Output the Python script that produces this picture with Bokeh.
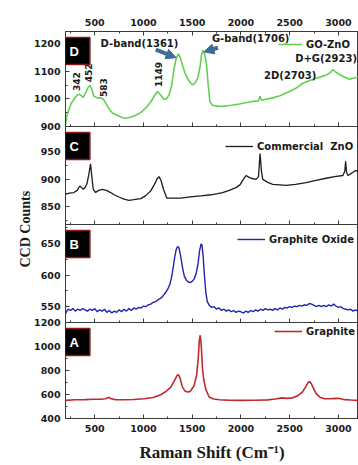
import math
from bokeh.plotting import figure
from bokeh.layouts import column
from bokeh.models import (Range1d, LinearAxis, SingleIntervalTicker, CustomJSTickFormatter,
                          Label, Arrow, NormalHead, Legend, LegendItem, ColumnDataSource, Title)
from bokeh.embed import file_html
from bokeh.resources import INLINE
from bokeh.core.properties import value

# ---------------- data ----------------
# Panel D : GO-ZnO
gz_x = [200, 215, 234, 260, 285, 310, 337, 360, 382, 410,
        430, 450, 470, 491, 520, 545, 567, 590, 611, 640,
        663, 700, 748, 780, 817, 860, 903, 950, 989, 1030,
        1074, 1110, 1143, 1175, 1211, 1240, 1263, 1290, 1314, 1335,
        1358, 1378, 1400, 1425, 1452, 1480, 1503, 1530, 1555, 1580,
        1596, 1610, 1625, 1645, 1662, 1681, 1709, 1760, 1812, 1900,
        1983, 2086, 2150, 2180, 2196, 2212, 2270, 2326, 2400, 2497,
        2570, 2635, 2700, 2772, 2830, 2875, 2915, 2944, 2975, 3012,
        3060, 3115, 3160, 3206]
gz_y = [905, 940, 962, 985, 998, 1010, 1018, 1012, 1006, 1025,
        1040, 1049, 1035, 1010, 1005, 1004, 1004, 998, 986, 968,
        956, 945, 938, 933, 930, 933, 938, 946, 956, 970,
        989, 1010, 1027, 1015, 998, 1002, 1016, 1050, 1111, 1145,
        1164, 1150, 1123, 1095, 1075, 1060, 1051, 1058, 1075, 1115,
        1160, 1177, 1165, 1130, 1060, 990, 977, 974, 973, 977,
        982, 989, 992, 993, 1010, 995, 1000, 1004, 1012, 1027,
        1040, 1057, 1066, 1075, 1082, 1087, 1095, 1107, 1097, 1089,
        1080, 1072, 1076, 1079]

# Panel C : Commercial ZnO
cz_x = [200, 240, 285, 320, 347, 365, 382, 405, 423, 440,
        457, 470, 485, 509, 540, 577, 620, 663, 700, 748,
        800, 851, 900, 972, 1020, 1074, 1110, 1140, 1160, 1180,
        1205, 1239, 1300, 1383, 1480, 1589, 1692, 1760, 1812, 1880,
        1949, 1990, 2018, 2052, 2080, 2103, 2155, 2180, 2196, 2210,
        2224, 2270, 2326, 2400, 2463, 2560, 2669, 2770, 2875, 2960,
        3046, 3066, 3074, 3084, 3098, 3125, 3149, 3175, 3206]
cz_y = [873, 875, 876, 880, 888, 885, 882, 886, 894, 910,
        928, 905, 882, 876, 880, 882, 880, 876, 872, 868,
        864, 862, 863, 865, 870, 879, 890, 901, 905, 898,
        882, 866, 866, 866, 868, 870, 872, 874, 876, 880,
        885, 890, 898, 907, 904, 902, 900, 905, 947, 915,
        900, 895, 891, 890, 889, 891, 894, 898, 902, 905,
        907, 915, 933, 912, 907, 910, 913, 916, 914]

# Panel B : Graphite Oxide
go_x = [200, 225, 250, 275, 300, 325, 350, 375, 400, 425,
        450, 475, 500, 525, 550, 575, 600, 625, 650, 675,
        700, 725, 750, 775, 800, 825, 850, 875, 900, 925,
        950, 975, 1000, 1025, 1050, 1075, 1100, 1125, 1150, 1175,
        1200, 1225, 1250, 1270, 1290, 1305, 1320, 1335, 1350, 1362,
        1375, 1390, 1405, 1420, 1440, 1460, 1480, 1500, 1520, 1540,
        1560, 1575, 1590, 1600, 1612, 1625, 1640, 1655, 1675, 1700,
        1725, 1750, 1775, 1800, 1825, 1850, 1875, 1900, 1925, 1950,
        1975, 2000, 2025, 2050, 2075, 2100, 2125, 2150, 2175, 2200,
        2225, 2250, 2275, 2300, 2325, 2350, 2375, 2400, 2425, 2450,
        2475, 2500, 2525, 2550, 2575, 2600, 2625, 2650, 2675, 2700,
        2725, 2750, 2775, 2800, 2825, 2850, 2875, 2900, 2925, 2950,
        2975, 3000, 3025, 3050, 3075, 3100, 3125, 3150, 3175, 3206]
go_y = [539, 546, 544, 547, 543, 546, 544, 547, 545, 543,
        546, 544, 547, 542, 545, 543, 546, 541, 544, 540,
        543, 541, 545, 542, 546, 543, 547, 544, 548, 546,
        549, 548, 551, 550, 553, 554, 557, 558, 561, 563,
        567, 572, 578, 585, 598, 612, 628, 640, 645, 644,
        635, 622, 608, 598, 592, 589, 588, 590, 594, 602,
        618, 638, 649, 648, 630, 600, 572, 558, 552, 549,
        550, 546, 548, 544, 546, 543, 545, 542, 544, 541,
        543, 542, 540, 543, 541, 544, 542, 545, 543, 546,
        544, 547, 545, 546, 544, 547, 545, 548, 546, 549,
        548, 550, 549, 551, 550, 552, 551, 553, 552, 555,
        554, 552, 550, 552, 550, 552, 550, 553, 551, 554,
        551, 549, 550, 547, 546, 545, 546, 543, 545, 543]

# Panel A : Graphite
gr_x = [200, 300, 400, 491, 560, 610, 630, 648, 668, 714,
        800, 900, 1006, 1100, 1177, 1230, 1280, 1320, 1345, 1358,
        1372, 1400, 1425, 1452, 1480, 1520, 1545, 1562, 1572, 1582,
        1592, 1605, 1617, 1640, 1674, 1720, 1780, 1863, 2000, 2150,
        2275, 2350, 2420, 2470, 2530, 2584, 2630, 2665, 2690, 2705,
        2722, 2750, 2772, 2810, 2857, 2930, 3000, 3064, 3130, 3206]
gr_y = [551, 556, 557, 560, 560, 565, 572, 575, 564, 557,
        556, 558, 565, 575, 598, 625, 662, 720, 760, 766,
        745, 662, 630, 620, 626, 675, 760, 900, 1040, 1094,
        1020, 820, 731, 640, 579, 563, 556, 553, 551, 552,
        555, 563, 572, 568, 572, 590, 620, 665, 700, 708,
        690, 640, 607, 578, 565, 566, 568, 557, 554, 551]

series_names = ["GO-ZnO", "Commercial  ZnO", "Graphite Oxide", "Graphite"]
panel_letters = ["D", "C", "B", "A"]
peak_labels = ["342", "452", "583", "1149"]
band_labels = ["D-band(1361)", "G-band(1706)", "2D(2703)", "D+G(2923)"]
y_title = "CCD Counts"
x_title = "Raman Shift (Cm\u207b\u00b9)"

# ---------------- styling ----------------
AX = "#3a3a3a"
TXT = "#1a1a1a"
TICK_FONT = "DejaVu Sans"
x_range = Range1d(200, 3206)


def blank_formatter():
    return CustomJSTickFormatter(code="return ''")


def panel(height, top, bottom, yr, yint, mtop):
    p = figure(width=358, height=height, x_range=x_range, y_range=Range1d(*yr),
               x_axis_location=None, toolbar_location=None, tools="",
               output_backend="svg", min_border_left=65, min_border_right=0,
               min_border_top=top, min_border_bottom=bottom,
               border_fill_color=None, background_fill_color="white",
               outline_line_color=AX, outline_line_width=1)
    p.margin = (mtop, 0, 0, 0)
    p.xgrid.visible = False
    p.ygrid.visible = False
    ya = p.yaxis[0]
    ya.ticker = SingleIntervalTicker(interval=yint, num_minor_ticks=2)
    ya.major_tick_in = 4
    ya.major_tick_out = 0
    ya.minor_tick_in = 2
    ya.minor_tick_out = 0
    ya.axis_line_color = AX
    ya.major_tick_line_color = AX
    ya.minor_tick_line_color = AX
    ya.major_label_standoff = 5
    ya.major_label_text_font = TICK_FONT
    ya.major_label_text_font_style = "bold"
    ya.major_label_text_font_size = "9.5px"
    ya.major_label_text_color = TXT
    return p


def x_axis(p, loc, labels):
    ax = LinearAxis(ticker=SingleIntervalTicker(interval=500, num_minor_ticks=2),
                    major_tick_in=4, major_tick_out=0, minor_tick_in=2, minor_tick_out=0,
                    axis_line_color=AX, major_tick_line_color=AX, minor_tick_line_color=AX)
    if labels:
        ax.major_label_standoff = 6
        ax.major_label_text_font = TICK_FONT
        ax.major_label_text_font_style = "bold"
        ax.major_label_text_font_size = "9.5px"
        ax.major_label_text_color = TXT
    else:
        ax.formatter = blank_formatter()
        ax.major_label_text_font_size = "0px"
        ax.major_label_standoff = 0
    p.add_layout(ax, loc)
    return ax


def letter_box(p, letter, ytop):
    p.add_layout(Label(x=200, y=ytop, text=letter, text_align="left", text_baseline="top",
                       x_offset=-1, y_offset=-6,
                       text_font="Liberation Sans", text_font_style="bold",
                       text_font_size="13px", text_color="white",
                       background_fill_color="black", border_line_color="#8b1a1a",
                       border_line_width=1.5, padding=(5, 11, 6, 6)))


def legend(p, renderer, label, vx, vy, gw):
    lg = Legend(items=[LegendItem(label=label, renderers=[renderer])],
                location=(vx, vy), padding=0, margin=0, spacing=0,
                glyph_width=gw, glyph_height=12, label_height=12, label_standoff=4,
                label_text_font=TICK_FONT, label_text_font_style="bold",
                label_text_font_size="10px", label_text_color=TXT,
                border_line_color=None, background_fill_alpha=0)
    p.add_layout(lg)


# ---- Panel D ----
pD = panel(132, 31, 6, (900, 1245), 100, 0)
x_axis(pD, "above", True)
x_axis(pD, "below", False)
rD = pD.line("x", "y", source=ColumnDataSource(dict(x=gz_x, y=gz_y)),
             line_color="#62d152", line_width=1.6)
letter_box(pD, panel_letters[0], 1245)
legend(pD, rD, series_names[0], 213, 76, 24)
pD.text(x=[313, 431, 586, 1152], y=[1029, 1061, 1007, 1043], text=peak_labels,
        angle=math.pi / 2, text_align="left", text_baseline="middle",
        text_font=value(TICK_FONT), text_font_style="bold", text_font_size="9px",
        text_color=TXT)
pD.text(x=[560, 1702, 2237, 2556], y=[1202, 1220, 1086, 1148], text=band_labels,
        text_align="left", text_baseline="middle",
        text_font=value(TICK_FONT), text_font_style="bold", text_font_size="10px",
        text_color=TXT)
ARC = "#3f6b9a"
pD.add_layout(Arrow(x_start=1126, y_start=1179, x_end=1335, y_end=1150,
                    line_color=ARC, line_width=4,
                    end=NormalHead(size=10, fill_color=ARC, line_color=ARC)))
pD.add_layout(Arrow(x_start=1764, y_start=1186, x_end=1620, y_end=1171,
                    line_color=ARC, line_width=4,
                    end=NormalHead(size=10, fill_color=ARC, line_color=ARC)))

# ---- Panel C ----
pC = panel(110, 6, 6, (818, 996), 50, -12)
x_axis(pC, "below", False)
rC = pC.line("x", "y", source=ColumnDataSource(dict(x=cz_x, y=cz_y)),
             line_color="#1c1c1c", line_width=1.3)
letter_box(pC, panel_letters[1], 996)
legend(pC, rC, series_names[1], 160, 72, 28)

# ---- Panel B ----
pB = panel(144, 40, 6, (525, 680), 50, -46)
x_axis(pB, "below", False)
rB = pB.line("x", "y", source=ColumnDataSource(dict(x=go_x, y=go_y)),
             line_color="#2323b0", line_width=1.4)
letter_box(pB, panel_letters[2], 680)
legend(pB, rB, series_names[2], 172, 77, 28)
pB.add_layout(Title(text=y_title, align="left", offset=55,
                    text_font="Liberation Serif", text_font_style="bold",
                    text_font_size="14px", text_color=TXT), "left")

# ---- Panel A ----
pA = panel(149, 6, 47, (400, 1200), 200, -12)
axA = x_axis(pA, "below", True)
axA.axis_label = x_title
axA.axis_label_text_font = "Liberation Serif"
axA.axis_label_text_font_style = "bold"
axA.axis_label_text_font_size = "17px"
axA.axis_label_text_color = TXT
axA.axis_label_standoff = 8
rA = pA.line("x", "y", source=ColumnDataSource(dict(x=gr_x, y=gr_y)),
             line_color="#bf2a2e", line_width=1.6)
letter_box(pA, panel_letters[3], 1200)
legend(pA, rA, series_names[3], 209, 81, 28)

layout = column(pD, pC, pB, pA, spacing=0)
open("out.html", "w").write(file_html(layout, INLINE))
